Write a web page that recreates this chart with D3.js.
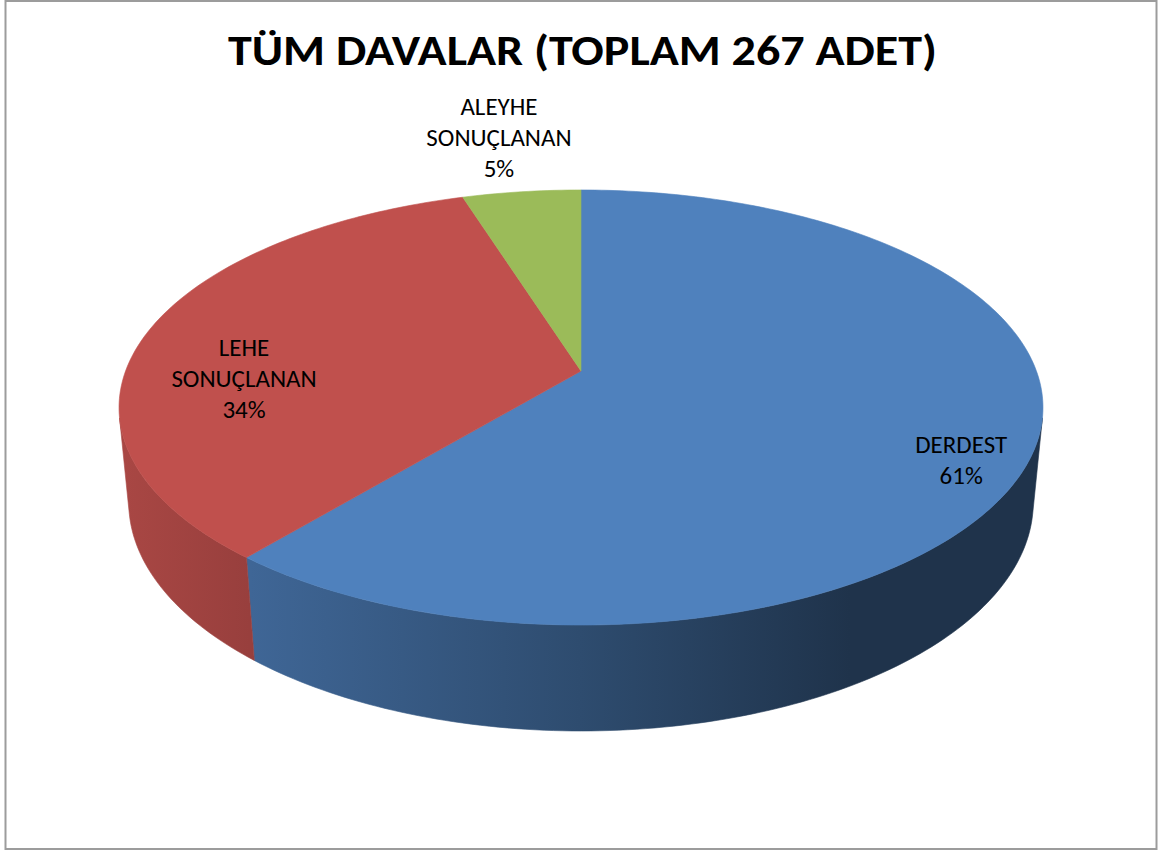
<!DOCTYPE html>
<html>
<head>
<meta charset="utf-8">
<script src="https://cdn.jsdelivr.net/npm/d3@7"></script>
<style>
  body { margin: 0; background: #fff; }
  text { font-family: Carlito, Calibri, Lato, sans-serif; }
</style>
</head>
<body>
<div id="chart"></div>
<script>
// data
var categories = ["DERDEST", "LEHE SONUÇLANAN", "ALEYHE SONUÇLANAN"];
var counts = [163, 91, 13];
var colors = ["#4f81bd", "#c0504d", "#9bbb59"];
var total = d3.sum(counts);
var titleText = "TÜM DAVALAR (TOPLAM " + total + " ADET)";

// label placement (radius on the top face, extra vertical shift)
var labelRadius = [0.845, 0.773, 1.47];
var labelShift = [25, 38, 13];

var W = 1161, H = 853;

var svg = d3.select("#chart")
  .append("svg")
    .attr("width", W)
    .attr("height", H);

// frame
svg.append("rect")
  .attr("x", 5.5).attr("y", 1)
  .attr("width", 1151).attr("height", 848)
  .attr("fill", "#fff")
  .attr("stroke", "#9c9c9c")
  .attr("stroke-width", 2);

// title
svg.append("text")
  .attr("x", 582.5)
  .attr("y", 65)
  .attr("text-anchor", "middle")
  .attr("font-size", 42)
  .attr("font-weight", "bold")
  .attr("textLength", 709)
  .attr("lengthAdjust", "spacingAndGlyphs")
  .text(titleText);

// simple perspective camera for the 3d pie
var cx = 581, cy = 371,
    focal = 2403.7, dist = 5.278,
    tilt = Math.asin(0.4642),
    depth = 0.2372;

function project(u, v, h) {
  var z = dist + v * Math.cos(tilt) - h * Math.sin(tilt);
  var y = v * Math.sin(tilt) + h * Math.cos(tilt);
  return [cx + focal * u / z, cy - focal * y / z];
}

// angle clockwise from 12 o'clock -> point on rim
function rim(a, r, h) {
  return project(r * Math.sin(a), r * Math.cos(a), h);
}

function arcPoints(a0, a1, r, h) {
  var n = Math.max(2, Math.ceil(Math.abs(a1 - a0) / (Math.PI / 180)));
  return d3.range(n + 1).map(function(i) {
    return rim(a0 + (a1 - a0) * i / n, r, h);
  });
}

var pie = d3.pie().sort(null).value(function(d) { return d; });
var arcs = pie(counts);

var line = d3.line();

// visible part of the outer wall (front side between the silhouettes)
var vs = -1 / (dist * Math.cos(tilt));
var visA = Math.acos(vs), visB = 2 * Math.PI - Math.acos(vs);

var defs = svg.append("defs");
var gradX = [120, 250, 580, 850, 1045];
var shade = [0.35, 0.65, 1.5, 2.6, 2.6];

arcs.forEach(function(d, i) {
  var g = defs.append("linearGradient")
    .attr("id", "wall" + i)
    .attr("gradientUnits", "userSpaceOnUse")
    .attr("x1", gradX[0]).attr("x2", gradX[gradX.length - 1])
    .attr("y1", 0).attr("y2", 0);
  g.selectAll("stop")
    .data(gradX)
    .enter().append("stop")
      .attr("offset", function(x) { return (x - gradX[0]) / (gradX[gradX.length - 1] - gradX[0]); })
      .attr("stop-color", function(x, j) { return d3.color(colors[i]).darker(shade[j]).formatHex(); });
});

// outer walls
var walls = svg.append("g");
arcs.forEach(function(d, i) {
  var a0 = Math.max(d.startAngle, visA),
      a1 = Math.min(d.endAngle, visB);
  if (a1 <= a0) return;
  var pts = arcPoints(a0, a1, 1, 0).concat(arcPoints(a1, a0, 1, -depth));
  walls.append("path")
    .attr("d", line(pts) + "Z")
    .attr("fill", "url(#wall" + i + ")")
    .attr("stroke", "url(#wall" + i + ")")
    .attr("stroke-width", 0.6);
});

// top faces
var tops = svg.append("g");
arcs.forEach(function(d, i) {
  var pts = [project(0, 0, 0)].concat(arcPoints(d.startAngle, d.endAngle, 1, 0));
  tops.append("path")
    .attr("d", line(pts) + "Z")
    .attr("fill", colors[i])
    .attr("stroke", colors[i])
    .attr("stroke-width", 0.6)
    .attr("stroke-linejoin", "round");
});

// data labels
var pct = d3.format(".0%");
var lineH = 31, capH = 18;
var labels = svg.append("g");
arcs.forEach(function(d, i) {
  var mid = (d.startAngle + d.endAngle) / 2;
  var p = rim(mid, labelRadius[i], 0);
  var lines = categories[i].split(" ").concat([pct(counts[i] / total)]);
  var top = p[1] + labelShift[i] - ((lines.length - 1) * lineH + capH) / 2;
  var t = labels.append("text")
    .attr("text-anchor", "middle")
    .attr("font-size", 25)
    .attr("fill", "#000");
  lines.forEach(function(s, j) {
    t.append("tspan")
      .attr("x", p[0])
      .attr("y", top + capH + j * lineH)
      .text(s);
  });
});
</script>
</body>
</html>
